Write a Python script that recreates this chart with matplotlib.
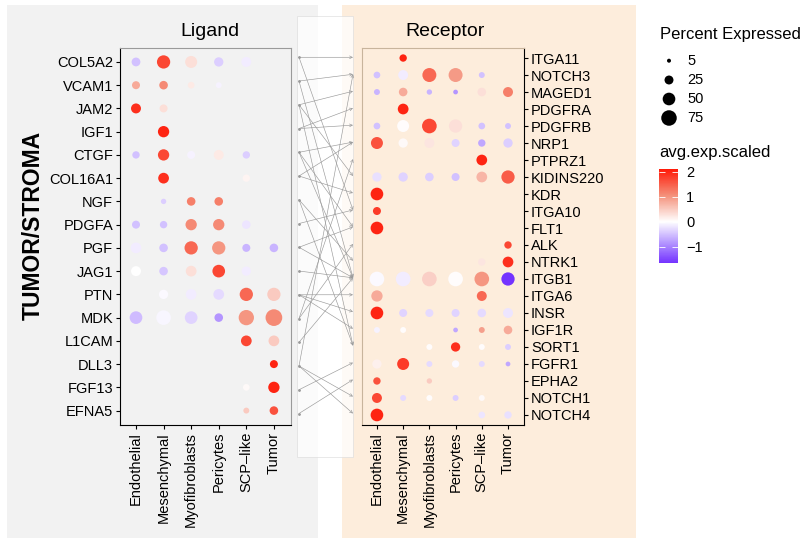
import matplotlib
matplotlib.use("Agg")
import matplotlib.pyplot as plt
import numpy as np
from matplotlib.colors import LinearSegmentedColormap, Normalize
from matplotlib.patches import Rectangle
from matplotlib.cm import ScalarMappable

plt.rcParams['font.family'] = ['Liberation Sans', 'DejaVu Sans']

cell_types = ["Endothelial", "Mesenchymal", "Myofibroblasts", "Pericytes", "SCP\u2013like", "Tumor"]

ligands = ["COL5A2", "VCAM1", "JAM2", "IGF1", "CTGF", "COL16A1", "NGF", "PDGFA",
           "PGF", "JAG1", "PTN", "MDK", "L1CAM", "DLL3", "FGF13", "EFNA5"]
receptors = ["ITGA11", "NOTCH3", "MAGED1", "PDGFRA", "PDGFRB", "NRP1", "PTPRZ1",
             "KIDINS220", "KDR", "ITGA10", "FLT1", "ALK", "NTRK1", "ITGB1", "ITGA6",
             "INSR", "IGF1R", "SORT1", "FGFR1", "EPHA2", "NOTCH1", "NOTCH4"]

# percent expressed (0 = no dot)
lig_pct = np.array([
    [24, 55, 45, 27, 31, 0],
    [20, 23, 14, 11, 0, 0],
    [31, 20, 0, 0, 0, 0],
    [0, 40, 0, 0, 0, 0],
    [17, 40, 20, 31, 17, 0],
    [0, 36, 0, 0, 17, 0],
    [0, 9, 23, 23, 0, 0],
    [20, 17, 40, 40, 23, 0],
    [36, 23, 55, 55, 20, 23],
    [31, 23, 36, 50, 27, 0],
    [0, 27, 36, 36, 55, 55],
    [50, 67, 50, 23, 73, 87],
    [0, 0, 0, 0, 36, 36],
    [0, 0, 0, 0, 0, 20],
    [0, 0, 0, 0, 14, 40],
    [0, 0, 0, 0, 11, 23],
])
lig_exp = np.array([
    [-0.5, 1.7, 0.3, -0.4, -0.15, 0],
    [0.8, 1.1, 0.2, -0.1, 0, 0],
    [1.9, 0.3, 0, 0, 0, 0],
    [0, 2.0, 0, 0, 0, 0],
    [-0.5, 1.7, -0.1, 0.2, -0.4, 0],
    [0, 1.9, 0, 0, 0.1, 0],
    [0, -0.4, 1.2, 1.2, 0, 0],
    [-0.5, -0.5, 1.1, 1.1, -0.2, 0],
    [-0.15, -0.5, 1.4, 1.0, -0.6, -0.6],
    [0.0, -0.45, 0.3, 1.7, -0.15, 0],
    [0, -0.05, -0.15, -0.3, 1.4, 0.5],
    [-0.55, -0.08, -0.35, -0.85, 1.0, 1.1],
    [0, 0, 0, 0, 1.7, 0.5],
    [0, 0, 0, 0, 0, 2.0],
    [0, 0, 0, 0, 0.05, 2.0],
    [0, 0, 0, 0, 0.5, 1.6],
])

rec_pct = np.array([
    [0, 17, 0, 0, 0, 0],
    [14, 31, 61, 61, 11, 0],
    [11, 23, 9, 7, 23, 31],
    [0, 36, 0, 0, 0, 0],
    [14, 45, 67, 55, 14, 11],
    [45, 27, 31, 20, 17, 27],
    [0, 0, 0, 0, 36, 0],
    [27, 27, 23, 20, 36, 55],
    [50, 0, 0, 0, 0, 0],
    [20, 0, 0, 0, 0, 0],
    [50, 0, 0, 0, 0, 0],
    [0, 0, 0, 0, 0, 17],
    [0, 0, 0, 0, 17, 36],
    [67, 67, 67, 67, 67, 55],
    [40, 0, 0, 0, 31, 0],
    [50, 20, 20, 20, 23, 31],
    [11, 11, 0, 7, 11, 23],
    [0, 0, 11, 27, 11, 11],
    [27, 45, 11, 17, 11, 7],
    [17, 0, 9, 0, 0, 0],
    [31, 11, 11, 11, 11, 0],
    [50, 0, 0, 0, 14, 17],
])
rec_exp = np.array([
    [0, 2.0, 0, 0, 0, 0],
    [-0.5, -0.15, 1.4, 0.95, -0.5, 0],
    [-0.6, 0.8, -0.6, -0.85, 0.3, 1.2],
    [0, 2.0, 0, 0, 0, 0],
    [-0.5, 0.03, 1.7, 0.3, -0.5, -0.5],
    [1.6, 0.05, 0.25, -0.35, -0.7, -0.4],
    [0, 0, 0, 0, 2.0, 0],
    [-0.25, -0.35, -0.4, -0.5, 0.7, 1.5],
    [2.0, 0, 0, 0, 0, 0],
    [1.8, 0, 0, 0, 0, 0],
    [2.0, 0, 0, 0, 0, 0],
    [0, 0, 0, 0, 0, 1.7],
    [0, 0, 0, 0, 0.25, 1.9],
    [-0.05, -0.15, 0.45, 0.03, 1.0, -1.65],
    [0.8, 0, 0, 0, 1.4, 0],
    [2.0, -0.35, -0.3, -0.35, -0.3, -0.2],
    [-0.1, 0.03, 0, -0.7, 0.9, 0.8],
    [0, 0, 0.02, 1.9, 0.03, -0.4],
    [0.15, 1.8, -0.3, -0.05, -0.3, -0.7],
    [1.6, 0, 0.5, 0, 0, 0],
    [1.7, -0.3, 0.02, -0.4, 0.05, 0],
    [2.0, 0, 0, 0, -0.2, -0.25],
])

pairs = [
    ("COL5A2", "ITGA11"), ("COL5A2", "ITGA10"),
    ("VCAM1", "NOTCH3"), ("VCAM1", "ITGB1"),
    ("JAM2", "MAGED1"), ("JAM2", "KIDINS220"), ("JAM2", "SORT1"),
    ("IGF1", "PDGFRA"), ("IGF1", "PDGFRB"),
    ("CTGF", "NRP1"), ("CTGF", "FLT1"), ("CTGF", "ITGB1"),
    ("COL16A1", "NRP1"), ("COL16A1", "KDR"),
    ("NGF", "NTRK1"), ("NGF", "SORT1"),
    ("PDGFA", "ITGA10"),
    ("PGF", "ITGB1"), ("PGF", "FLT1"),
    ("JAG1", "ITGB1"),
    ("PTN", "ITGA6"), ("PTN", "INSR"), ("PTN", "IGF1R"),
    ("MDK", "PTPRZ1"), ("MDK", "ALK"),
    ("L1CAM", "ITGB1"),
    ("DLL3", "NOTCH3"), ("DLL3", "NOTCH1"), ("DLL3", "NOTCH4"),
    ("FGF13", "FGFR1"),
    ("EFNA5", "EPHA2"),
]

size_breaks = [5, 25, 50, 75]
exp_min, exp_max = -1.65, 2.1

W, H = 806, 538
fig = plt.figure(figsize=(W / 100, H / 100), dpi=100)


def box(x0, y0, x1, y1):
    return [x0 / W, 1 - y1 / H, (x1 - x0) / W, (y1 - y0) / H]


# panel backgrounds
fig.add_artist(Rectangle((7 / W, 0), 311 / W, 1 - 5 / H, transform=fig.transFigure,
                         facecolor="#f2f2f2", edgecolor="none", zorder=-3))
fig.add_artist(Rectangle((342 / W, 0), 294 / W, 1 - 5 / H, transform=fig.transFigure,
                         facecolor="#fdeddc", edgecolor="none", zorder=-3))
fig.add_artist(Rectangle((297 / W, 1 - 457 / H), 56 / W, 441 / H, transform=fig.transFigure,
                         facecolor="white", alpha=0.75, edgecolor="#dcdcdc", lw=0.6, zorder=-2))

# white sits at 0 on a linear scale
mid = -exp_min / (exp_max - exp_min)
cmap = LinearSegmentedColormap.from_list(
    "rwp", [(0, "#7433ff"), (mid * 0.5, "#b699ff"), (mid, "#ffffff"),
            (mid + (1 - mid) * 0.5, "#f4907a"), (1, "#ff1a08")])
norm = Normalize(vmin=exp_min, vmax=exp_max)
SIZE = 1.66


def dotplot(ax, names, pct, exp, edge):
    r, c = np.nonzero(pct)
    ax.scatter(c, r, s=pct[r, c] * SIZE, c=exp[r, c], cmap=cmap, norm=norm,
               edgecolors="none", zorder=3)
    n = len(names)
    ax.set_xlim(-0.58, 5.62)
    ax.set_ylim(n - 1 + 0.62, -0.6)
    ax.set_facecolor("none")
    ax.set_xticks(range(len(cell_types)))
    ax.set_xticklabels(cell_types, rotation=90, fontsize=10.5)
    ax.set_yticks(range(n))
    ax.set_yticklabels(names, fontsize=10.5)
    ax.tick_params(length=3, width=0.8, color="black", pad=2)
    for s in ax.spines.values():
        s.set_color(edge)
        s.set_linewidth(0.8)
    ax.spines["bottom"].set_color("black")


axl = fig.add_axes(box(120, 48, 291, 425))
dotplot(axl, ligands, lig_pct, lig_exp, "#9a9a9a")
axl.spines["left"].set_color("black")

axr = fig.add_axes(box(362, 48, 524, 425))
dotplot(axr, receptors, rec_pct, rec_exp, "#c8b49c")
axr.set_ylim(len(receptors) - 1 + 0.59, -0.59)
axr.set_xlim(-0.57, 5.61)
axr.yaxis.tick_right()
axr.spines["right"].set_color("black")

fig.text(210 / W, 1 - 32 / H, "Ligand", fontsize=14, ha="center", va="center")
fig.text(445 / W, 1 - 32 / H, "Receptor", fontsize=14, ha="center", va="center")
fig.text(33 / W, 1 - 225 / H, "TUMOR/STROMA", fontsize=16.5, fontweight="bold",
         rotation=90, ha="center", va="center")

# ligand -> receptor links
axm = fig.add_axes(box(299, 57.3, 353, 413.5))
axm.set_xlim(0, 1)
axm.set_ylim(1, 0)
axm.axis("off")
axm.scatter(np.zeros(len(ligands)), np.arange(len(ligands)) / (len(ligands) - 1),
            s=1, color="#9a9a9a", clip_on=False)
for lig, rec in pairs:
    yl = ligands.index(lig) / (len(ligands) - 1)
    yr = receptors.index(rec) / (len(receptors) - 1)
    axm.annotate("", xy=(1, yr), xytext=(0, yl),
                 arrowprops=dict(arrowstyle="->", color="#9a9a9a", lw=0.45,
                                 shrinkA=0, shrinkB=0, mutation_scale=5))

# size legend
lax = fig.add_axes([0, 0, 1, 1])
lax.set_xlim(0, W)
lax.set_ylim(H, 0)
lax.axis("off")
lax.set_zorder(-1)
fig.text(660 / W, 1 - 35 / H, "Percent Expressed", fontsize=12, ha="left", va="center")
ys = [60.7, 80, 99, 118]
lax.scatter([669] * 4, ys, s=np.array(size_breaks) * SIZE, color="black", edgecolors="none")
for y, b in zip(ys, size_breaks):
    lax.text(687, y, str(b), fontsize=10.5, ha="left", va="center")

# colour bar
fig.text(659 / W, 1 - 152.5 / H, "avg.exp.scaled", fontsize=12, ha="left", va="center")
cax = fig.add_axes(box(659, 169, 678, 263))
cb = fig.colorbar(ScalarMappable(norm=norm, cmap=cmap), cax=cax)
cb.outline.set_visible(False)
cb.set_ticks([-1, 0, 1, 2])
cb.set_ticklabels(["\u22121", "0", "1", "2"], fontsize=10.5)
cax.yaxis.set_ticks_position("both")
cax.tick_params(direction="in", length=4, width=0.6, color="white", labelleft=False,
                labelright=True, pad=6)

fig.savefig("out.png", dpi=100)
